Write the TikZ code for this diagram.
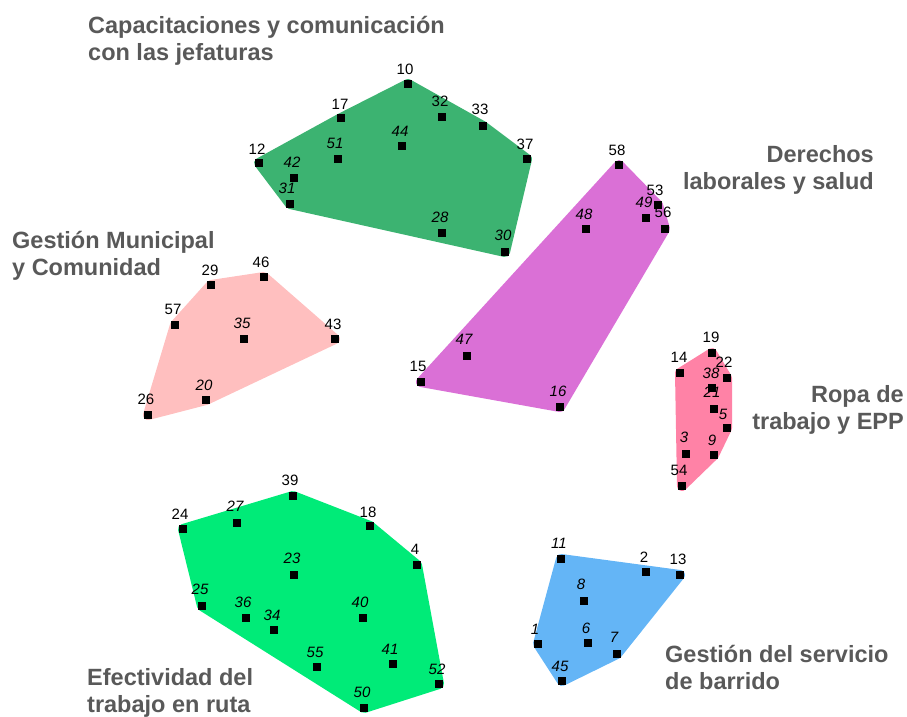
\documentclass[tikz,border=0pt]{standalone}
\usepackage{fontspec}
\setmainfont{Liberation Sans}
\pgfdeclarelayer{bg}
\pgfsetlayers{bg,main}
\definecolor{cgreen}{HTML}{3CB371}
\definecolor{corchid}{HTML}{DA70D6}
\definecolor{clpink}{HTML}{FFBFBF}
\definecolor{chpink}{HTML}{FF82A6}
\definecolor{cbgreen}{HTML}{00EB78}
\definecolor{cblue}{HTML}{64B5F6}
\definecolor{tgray}{HTML}{595959}
\tikzset{
  sq/.style={rectangle, fill=black, minimum size=7.5pt, inner sep=0pt, outer sep=0pt},
  lab/.style={font=\fontsize{15}{15}\selectfont\itshape, inner sep=0pt},
  labu/.style={font=\fontsize{15}{15}\selectfont, inner sep=0pt},
  hull/.style={fill=#1, draw=#1, line width=10pt, line join=round},
  title/.style={font=\fontsize{23.5}{27}\selectfont\bfseries, text=tgray, inner sep=0pt}
}
\newcommand\mypt[6][lab]{\node[sq] (s#2) at (#3,#4) {}; \node[#1] (l#2) at (#5,#6) {#2};}
\begin{document}
\begin{tikzpicture}[x=1pt,y=-1pt]
\useasboundingbox (0,0) rectangle (907,717);
% cluster 1: Capacitaciones
\mypt[labu]{10}{408}{84}{405}{69}
\mypt[labu]{17}{341}{118}{340}{104}
\mypt[labu]{32}{442}{117}{440}{101}
\mypt[labu]{33}{483}{126}{480}{109}
\mypt{44}{402}{146}{400}{131}
\mypt[labu]{12}{259}{163}{257}{149}
\mypt{51}{338}{159}{335}{143}
\mypt[labu]{37}{527}{159}{525}{144}
\mypt{42}{294}{178}{292}{162}
\mypt{31}{290}{204}{287}{188}
\mypt{28}{442}{233}{440}{217}
\mypt{30}{505}{252}{503}{235}
% cluster 2: Derechos
\mypt[labu]{58}{619}{165}{617}{150}
\mypt[labu]{53}{658}{205}{655}{190}
\mypt{49}{646}{218}{644}{202}
\mypt[labu]{56}{665}{229}{663}{212}
\mypt{48}{586}{229}{584}{214}
\mypt{47}{467}{356}{464}{339}
\mypt[labu]{15}{421}{382}{418}{366}
\mypt{16}{560}{407}{558}{391}
% cluster 3: Gestion Municipal
\mypt[labu]{29}{211}{285}{210}{270}
\mypt[labu]{46}{264}{277}{261}{262}
\mypt[labu]{57}{175}{325}{173}{309}
\mypt{35}{244}{339}{242}{323}
\mypt[labu]{43}{335}{339}{333}{324}
\mypt{20}{206}{400}{204}{385}
\mypt[labu]{26}{148}{415}{146}{399}
% cluster 4: Ropa
\mypt[labu]{19}{712}{353}{711}{337}
\mypt[labu]{14}{680}{373}{679}{357}
\mypt[labu]{22}{727}{378}{724}{362}
\mypt{38}{712}{388}{711}{373}
\mypt{21}{714}{409}{712}{392}
\mypt{5}{727}{428}{723}{414}
\mypt{3}{686}{454}{684}{437}
\mypt{9}{714}{455}{712}{440}
\mypt[labu]{54}{682}{486}{679}{470}
% cluster 5: Efectividad
\mypt[labu]{39}{293}{496}{290}{480}
\mypt{27}{237}{523}{235}{506}
\mypt[labu]{24}{183}{529}{180}{514}
\mypt[labu]{18}{370}{526}{368}{512}
\mypt[labu]{4}{417}{565}{415}{549}
\mypt{23}{294}{575}{292}{558}
\mypt{25}{202}{606}{200}{589}
\mypt{36}{246}{618}{243}{602}
\mypt{40}{363}{618}{360}{602}
\mypt{34}{274}{630}{272}{615}
\mypt{55}{317}{667}{315}{652}
\mypt{41}{393}{664}{390}{649}
\mypt{52}{439}{684}{437}{669}
\mypt{50}{364}{708}{362}{692}
% cluster 6: Gestion del servicio
\mypt{11}{561}{559}{559}{543}
\mypt[labu]{2}{646}{572}{644}{557}
\mypt[labu]{13}{680}{575}{678}{559}
\mypt{8}{584}{601}{581}{584}
\mypt{1}{538}{644}{535}{629}
\mypt{6}{588}{643}{586}{628}
\mypt{7}{617}{654}{614}{637}
\mypt{45}{562}{681}{560}{666}
% hulls
\begin{pgfonlayer}{bg}
\path[hull=cgreen] (s12.center) -- (s17.center) -- (s10.center) -- (s33.center) -- (s37.center) -- (s30.center) -- (s31.center) -- cycle;
\path[hull=corchid] (s58.center) -- (s53.center) -- (s56.center) -- (s16.center) -- (s15.center) -- cycle;
\path[hull=clpink] (s26.center) -- (s57.center) -- (s29.center) -- (s46.center) -- (s43.center) -- (s20.center) -- cycle;
\path[hull=chpink] (s19.center) -- (s22.center) -- (s5.center) -- (s9.center) -- (s54.center) -- (s14.center) -- cycle;
\path[hull=cbgreen] (s24.center) -- (s39.center) -- (s18.center) -- (s4.center) -- (s52.center) -- (s50.center) -- (s25.center) -- cycle;
\path[hull=cblue] (s11.center) -- (s13.center) -- (s7.center) -- (s45.center) -- (s1.center) -- cycle;
\end{pgfonlayer}
% titles
\node[title, anchor=base west] (t1) at (88,34) {\begin{tabular}[t]{@{}l@{}}Capacitaciones y comunicación\\con las jefaturas\end{tabular}};
\node[title, anchor=base east] (t2) at (874,162) {\begin{tabular}[t]{@{}r@{}}Derechos\\laborales y salud\end{tabular}};
\node[title, anchor=base west] (t3) at (12,248) {\begin{tabular}[t]{@{}l@{}}Gestión Municipal\\y Comunidad\end{tabular}};
\node[title, anchor=base east] (t4) at (904,402) {\begin{tabular}[t]{@{}r@{}}Ropa de\\trabajo y EPP\end{tabular}};
\node[title, anchor=base west] (t5) at (665,662) {\begin{tabular}[t]{@{}l@{}}Gestión del servicio\\de barrido\end{tabular}};
\node[title, anchor=base west] (t6) at (87,685) {\begin{tabular}[t]{@{}l@{}}Efectividad del\\trabajo en ruta\end{tabular}};
\end{tikzpicture}
\end{document}
